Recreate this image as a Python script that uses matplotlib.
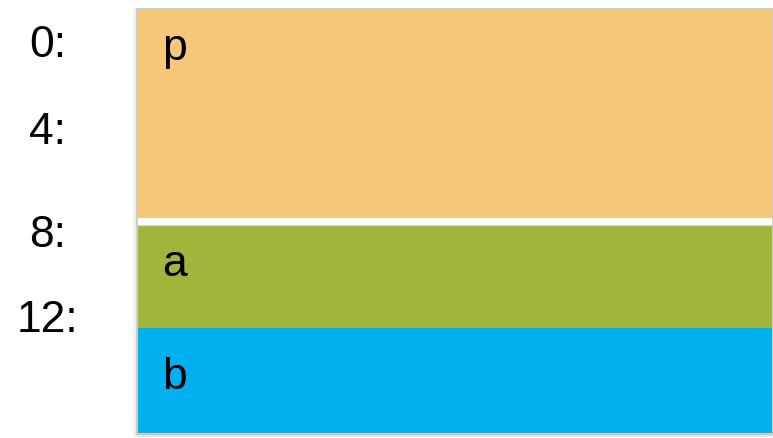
import matplotlib
matplotlib.use("Agg")
import matplotlib.pyplot as plt
import matplotlib.transforms as mtransforms
from matplotlib.patches import Rectangle

plt.rcParams['font.family'] = ['Liberation Sans', 'DejaVu Sans']

# memory layout: byte offsets on the left, blocks on the right
offsets = [0, 4, 8, 12]
offset_labels = [f"{o}:" for o in offsets]
block_names = ["p", "a", "b"]
block_starts = [0, 8, 12]
block_sizes = [8, 4, 4]
block_colors = ["#F9C779", "#A1B53B", "#00B0EF"]

# layout: where the offset labels sit and how far below a block's top its name goes (bytes)
label_y = [1.35, 4.6, 8.5, 11.7]
name_drop = [1.9, 2.0, 2.25]

W, H = 773, 439
fig = plt.figure(figsize=(W / 100, H / 100), dpi=100)
left, right, top, bottom = 137, 773, 10, 435
ax = fig.add_axes([left / W, 1 - bottom / H, (right - left) / W, (bottom - top) / H])

# soft shadow on the left/bottom of the box
for i, a in enumerate([0.05, 0.08, 0.12, 0.18]):
    fig.patches.append(Rectangle(((left - 5 + i) / W, (1 - (bottom + 3) / H)), 1 / W,
                                 (bottom - top + 3) / H, transform=fig.transFigure,
                                 color="#9a9a9a", alpha=a, lw=0))
fig.patches.append(Rectangle((left / W, 1 - (bottom + 3) / H), (right - left) / W, 3 / H,
                             transform=fig.transFigure, color="#b0b0b0", alpha=0.3, lw=0))

ax.bar(0.5, block_sizes, bottom=block_starts, width=1.0, color=block_colors, lw=0)

# white gap between p and a
ax.axhline(8, color="white", lw=5.8)
ax.axhline(8.13, color="#D9DDCF", lw=0.8)

for name, s, d in zip(block_names, block_starts, name_drop):
    ax.text(0.04, s + d, name, fontsize=32, va="baseline", ha="left")

label_tr = mtransforms.blended_transform_factory(fig.transFigure, ax.transData)
for lab, y in zip(offset_labels, label_y):
    ax.text(48 / W, y, lab, fontsize=32, ha="center", va="center", transform=label_tr)

ax.set_xlim(0, 1)
ax.set_ylim(16, 0)
ax.set_xticks([])
ax.set_yticks([])
for sp in ax.spines.values():
    sp.set_color("#C9D1BE")
    sp.set_linewidth(1.5)

fig.savefig("out.png", dpi=100)
